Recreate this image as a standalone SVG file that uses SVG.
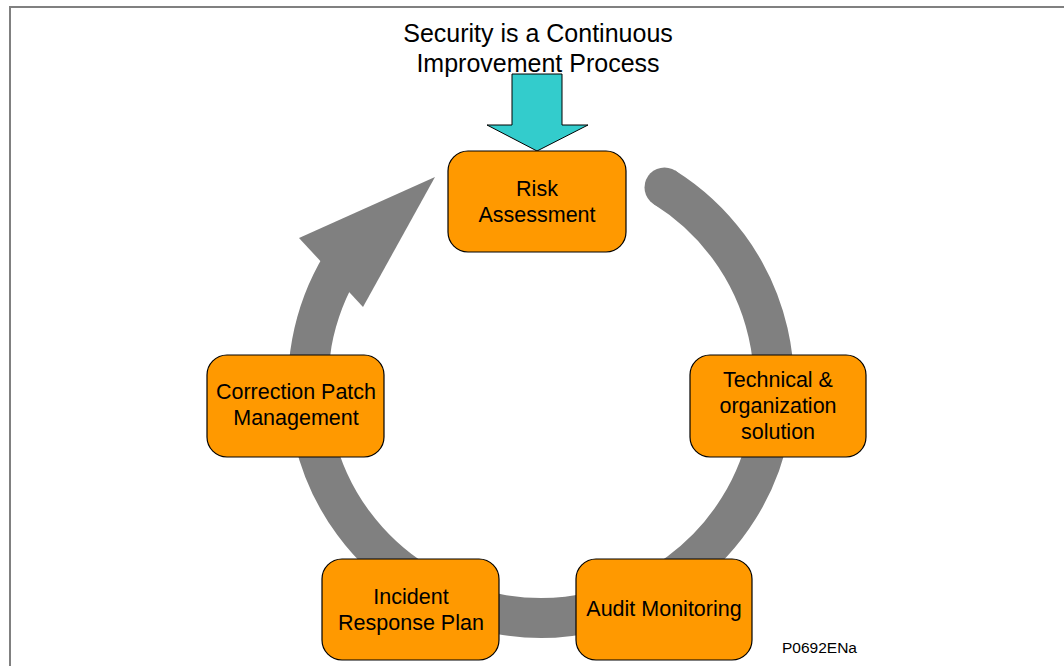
<svg xmlns="http://www.w3.org/2000/svg" width="1064" height="666" viewBox="0 0 1064 666">
<style>
.box{fill:#FF9900;stroke:#000;stroke-width:1.2}
.t{font-family:"Liberation Sans",Arial,sans-serif;font-size:21.5px;fill:#000;text-anchor:middle}
.title{font-family:"Liberation Sans",Arial,sans-serif;font-size:25px;fill:#000;text-anchor:middle}
</style>
<rect x="0" y="0" width="1064" height="666" fill="#fff"/>
<rect x="10" y="7" width="1100" height="700" fill="none" stroke="#808080" stroke-width="2"/>
<g id="title">
<text class="title" x="538" y="42">Security is a Continuous</text>
<text class="title" x="538" y="72">Improvement Process</text>
</g>
<g id="connectors">
<path d="M664.5,187.4 A233,233 0 1 1 343.4,261.5" fill="none" stroke="#808080" stroke-width="40"/>
<circle cx="664.5" cy="187.4" r="20" fill="#808080"/>
<polygon points="299,238 435,177 363,307" fill="#808080"/>
<polygon points="512,74 562,74 562,125 588,125 537,151 487,125 512,125" fill="#33CCCC" stroke="#000" stroke-width="1"/>
</g>
<g id="risk">
<rect class="box" x="448" y="151" width="178" height="101" rx="20"/>
<text class="t" x="537" y="196">Risk</text>
<text class="t" x="537" y="222">Assessment</text>
</g>
<g id="technical">
<rect class="box" x="690" y="355" width="176" height="102" rx="20"/>
<text class="t" x="778" y="387">Technical &amp;</text>
<text class="t" x="778" y="413">organization</text>
<text class="t" x="778" y="439">solution</text>
</g>
<g id="correction">
<rect class="box" x="207" y="355" width="177" height="102" rx="20"/>
<text class="t" x="296" y="399">Correction Patch</text>
<text class="t" x="296" y="425">Management</text>
</g>
<g id="incident">
<rect class="box" x="322" y="559" width="177" height="101" rx="20"/>
<text class="t" x="411" y="604">Incident</text>
<text class="t" x="411" y="630">Response Plan</text>
</g>
<g id="audit">
<rect class="box" x="576" y="559" width="176" height="101" rx="20"/>
<text class="t" x="664" y="616">Audit Monitoring</text>
</g>
<text x="782" y="653" font-family="Liberation Sans, Arial, sans-serif" font-size="15.5" fill="#000">P0692ENa</text>
</svg>
